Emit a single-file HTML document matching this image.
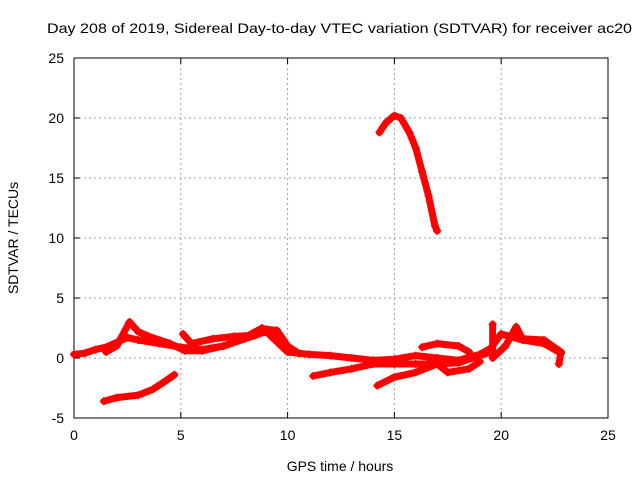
<!DOCTYPE html>
<html><head><meta charset="utf-8"><style>
body{margin:0;background:#fff}
svg text{font-family:"Liberation Sans",sans-serif;font-size:14px;fill:#000}
</style></head><body>
<svg id="c" width="640" height="480" xmlns="http://www.w3.org/2000/svg">
<rect width="640" height="480" fill="#fff"/>
<text x="47" y="33" textLength="585" lengthAdjust="spacingAndGlyphs">Day 208 of 2019, Sidereal Day-to-day VTEC variation (SDTVAR) for receiver ac20</text>
<text x="340" y="471" text-anchor="middle">GPS time / hours</text>
<text transform="translate(18,238) rotate(-90)" text-anchor="middle">SDTVAR / TECUs</text>
<g id="grid"></g><g id="axes"></g><g id="series"></g>
</svg>
<script>
const xTicks=[0,5,10,15,20,25];
const yTicks=[-5,0,5,10,15,20,25];
const trackArc=[[14.3,18.8],[14.6,19.6],[15.0,20.2],[15.3,20.0],[15.7,18.8],[16.0,17.5],[16.3,15.5],[16.6,13.5],[16.9,11.0],[17.0,10.6]];
const trackLowLeft=[[1.4,-3.6],[2,-3.3],[3,-3.1],[3.7,-2.6],[4.3,-1.9],[4.7,-1.4]];
const trackMain=[[0,0.3],[0.5,0.4],[1,0.7],[1.5,0.9],[2,1.3],[2.5,1.7],[3,1.5],[4,1.2],[5,0.9],[6,0.7],[7,1.0],[8,1.6],[9,2.2],[10,0.5],[11,0.3],[12,0.2],[13,0.0],[14,-0.2],[15,-0.1],[16,0.2],[17,0.0],[18,-0.2],[19,0.3],[19.5,0.8],[20,2.0],[21,1.5],[22,1.2],[22.8,0.4]];
const trackUpper=[[1.5,0.5],[2,1.0],[2.6,3.0],[3,2.2],[3.5,1.8],[4.5,1.2],[5.2,0.6],[6,0.6],[7,1.0],[8,1.7],[8.8,2.5],[9.4,1.8],[10,0.7]];
const trackBand2=[[5.1,2.0],[5.5,1.2],[6.5,1.6],[7.5,1.8],[8.5,1.9],[9,2.4],[9.5,2.3],[10,1.0],[10.5,0.4]];
const trackLow=[[11.2,-1.5],[12,-1.2],[13,-0.9],[14,-0.5],[15,-0.5],[16,-0.5],[17,-0.5],[17.5,-1.2],[18.5,-0.9],[19,-0.3]];
const trackLow2=[[14.2,-2.3],[15,-1.6],[16,-1.2],[17,-0.5],[18,-0.4],[19,0.2],[19.5,0.5]];
const trackMid=[[16.3,0.9],[17,1.2],[18,1.0],[18.5,0.5]];
const trackRight=[[19.6,2.8],[19.6,0.0],[20.2,1.0],[20.7,2.6],[21,1.6],[22,1.5],[22.8,0.5],[22.7,-0.5]];
const tracks=[trackArc,trackLowLeft,trackMain,trackUpper,trackBand2,trackLow,trackLow2,trackMid,trackRight];
const X0=74,X1=608,Y0=418,Y1=58;
const sx=v=>X0+(v-0)/25*(X1-X0);
const sy=v=>Y0-(v+5)/30*(Y0-Y1);
const NS="http://www.w3.org/2000/svg";
const mk=(t,a,p)=>{const e=document.createElementNS(NS,t);for(const k in a)e.setAttribute(k,a[k]);p.appendChild(e);return e;};
const grid=document.getElementById('grid'),axes=document.getElementById('axes'),ser=document.getElementById('series');
xTicks.forEach(t=>{
 if(t>0&&t<25){const l=mk('line',{x1:sx(t),x2:sx(t),y1:Y1,y2:Y0,stroke:'#a0a0a0','stroke-dasharray':'2,3'},grid);
 }
 const tx=mk('text',{x:sx(t),y:Y0+22,'text-anchor':'middle'},axes);tx.textContent=t;
 
 mk('line',{x1:sx(t),x2:sx(t),y1:Y0,y2:Y0-6,stroke:'#000'},axes);
 mk('line',{x1:sx(t),x2:sx(t),y1:Y1,y2:Y1+6,stroke:'#000'},axes);
});
yTicks.forEach(t=>{
 if(t>-5&&t<25){const l=mk('line',{x1:X0,x2:X1,y1:sy(t),y2:sy(t),stroke:'#a0a0a0','stroke-dasharray':'2,3'},grid);
 }
 const tx=mk('text',{x:X0-10,y:sy(t)+5,'text-anchor':'end'},axes);tx.textContent=t;
 
 mk('line',{x1:X0,x2:X0+6,y1:sy(t),y2:sy(t),stroke:'#000'},axes);
 mk('line',{x1:X1,x2:X1-6,y1:sy(t),y2:sy(t),stroke:'#000'},axes);
});
const fr=mk('rect',{x:X0,y:Y1,width:X1-X0,height:Y0-Y1,fill:'none',stroke:'#000'},axes);

tracks.forEach(tr=>{
 const pl=mk('polyline',{points:tr.map(p=>sx(p[0])+','+sy(p[1])).join(' '),fill:'none',stroke:'#f00','stroke-width':7,'stroke-linejoin':'round','stroke-linecap':'round'},ser);
 
 tr.forEach(p=>{
  const m=mk('path',{d:`M${sx(p[0])-4},${sy(p[1])}h8M${sx(p[0])},${sy(p[1])-4}v8`,stroke:'#f00','stroke-width':1.5},ser);
  
 });
});
</script>
</body></html>
